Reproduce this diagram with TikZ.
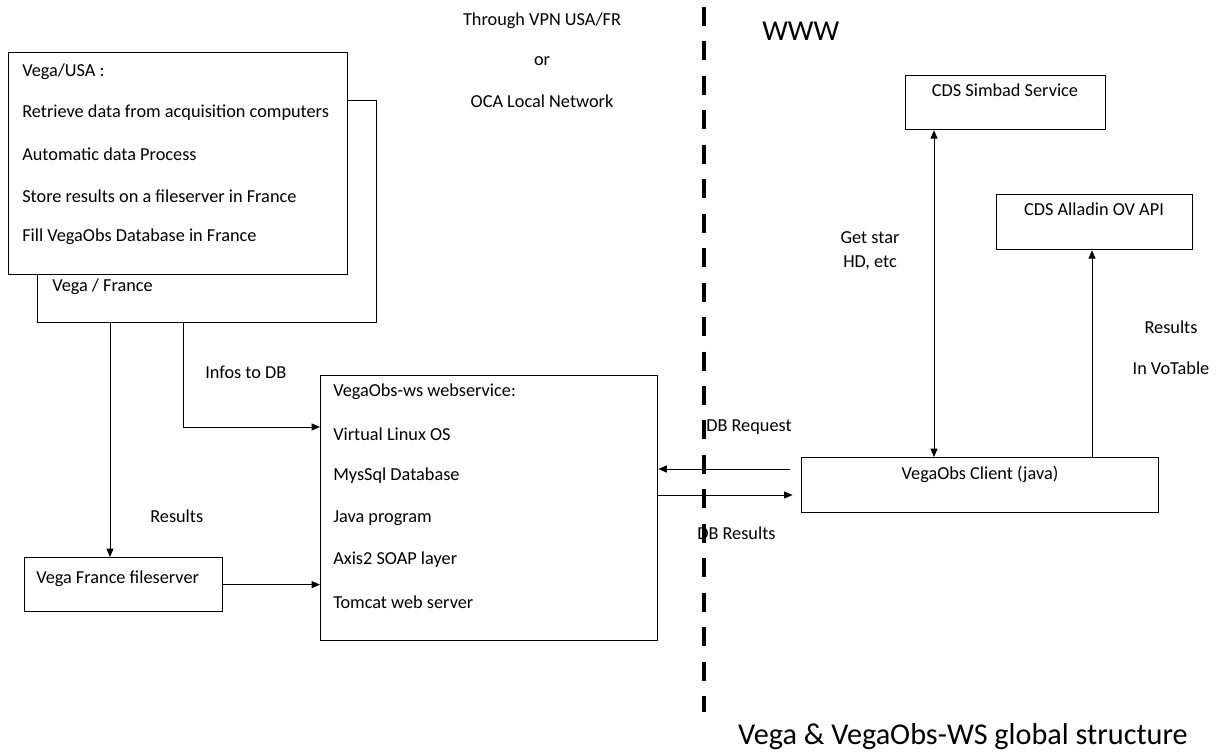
\documentclass[tikz,border=0pt]{standalone}
\usepackage{fontspec}
\setmainfont{Carlito}
\usetikzlibrary{arrows.meta}

\tikzset{
  box/.style={draw, line width=0.9pt, fill=white, inner sep=0pt, anchor=north west},
  txt/.style={inner sep=0pt, anchor=west, font=\fontsize{13}{15}\selectfont},
  ctxt/.style={inner sep=0pt, font=\fontsize{13}{15}\selectfont},
  arr/.style={line width=0.7pt, -{Triangle[length=6pt,width=5pt]}},
  divider/.style={line width=3pt, dash pattern=on 13.5pt off 11pt}
}

\begin{document}
\begin{tikzpicture}[x=0.025cm, y=-0.025cm]

    \useasboundingbox (0,0) rectangle (1220,753);

    % left side
    \node[box, minimum width=8.475cm, minimum height=5.55cm] (france) at (37,100) {};
    \node[box, minimum width=8.475cm, minimum height=5.55cm] (usa) at (8,52) {};

    \node[txt] (usa1) at (22,72) {Vega/USA :};
    \node[txt] (usa2) at (22,113) {Retrieve data from acquisition computers};
    \node[txt] (usa3) at (22,154) {Automatic data Process};
    \node[txt] (usa4) at (22,196) {Store results on a fileserver in France};
    \node[txt] (usa5) at (22,237) {Fill VegaObs Database in France};
    \node[txt] (frtxt) at (52,287) {Vega / France};

    \node[box, minimum width=4.95cm, minimum height=1.35cm] (fileserver) at (24,557) {};
    \node[txt] (fstxt) at (36,579) {Vega France fileserver};

    \node[box, minimum width=8.425cm, minimum height=6.625cm] (webservice) at (320,375) {};
    \node[txt] (ws1) at (333,392) {VegaObs-ws webservice:};
    \node[txt] (ws2) at (333,434) {Virtual Linux OS};
    \node[txt] (ws3) at (333,476) {MysSql Database};
    \node[txt] (ws4) at (333,518) {Java program};
    \node[txt] (ws5) at (333,560) {Axis2 SOAP layer};
    \node[txt] (ws6) at (333,602) {Tomcat web server};

    \node[ctxt] (vpn1) at (542,21) {Through VPN USA/FR};
    \node[ctxt] (vpn2) at (542,61) {or};
    \node[ctxt] (vpn3) at (542,101) {OCA Local Network};

    \node[txt] (infos) at (205,372) {Infos to DB};
    \node[txt] (results) at (150,516) {Results};

    % separation
    \coordinate (divtop) at (704,7);
    \coordinate (divbot) at (704,712);
    \draw[divider] (divtop) -- (divbot);

    \node[txt, font=\fontsize{20.5}{22}\selectfont] (www) at (762,31) {WWW};

    % right side
    \node[box, minimum width=5cm, minimum height=1.35cm] (simbad) at (905,75) {};
    \node[ctxt, anchor=north] (simbadtxt) at (1005,84) {CDS Simbad Service};

    \node[box, minimum width=4.9cm, minimum height=1.375cm] (alladin) at (996,194) {};
    \node[ctxt, anchor=north] (alladintxt) at (1094,203) {CDS Alladin OV API};

    \node[box, minimum width=8.925cm, minimum height=1.375cm] (client) at (801,457) {};
    \node[ctxt, anchor=north] (clienttxt) at (980,466) {VegaObs Client (java)};

    \node[ctxt] (getstar) at (870,238) {Get star};
    \node[ctxt] (hdetc) at (870,263) {HD, etc};
    \node[ctxt] (votab1) at (1171,327) {Results};
    \node[ctxt] (votab2) at (1171,368) {In VoTable};

    \node[txt] (dbreq) at (706,427) {DB Request};
    \node[txt] (dbres) at (697,533) {DB Results};

    \node[ctxt, font=\fontsize{21.5}{24}\selectfont] (title) at (963,737) {Vega \& VegaObs-WS global structure};

    % connectors
    \draw[arr] (france.south -| 110,0) -- (fileserver.north -| 110,0);
    \draw[arr] (france.south -| 183,0) |- (webservice.west |- 0,427);
    \draw[arr] (fileserver.east) -- (webservice.west |- fileserver.east);
    \draw[arr, shorten <=8pt] (client.west |- 0,469) -- (webservice.east |- 0,469);
    \draw[arr, shorten >=6pt] (webservice.east |- 0,495) -- (client.west |- 0,495);
    \draw[arr, {Triangle[length=6pt,width=5pt]}-{Triangle[length=6pt,width=5pt]}] (client.north -| 934,0) -- (simbad.south -| 934,0);
    \draw[arr] (client.north -| 1092,0) -- (alladin.south -| 1092,0);

\end{tikzpicture}
\end{document}
